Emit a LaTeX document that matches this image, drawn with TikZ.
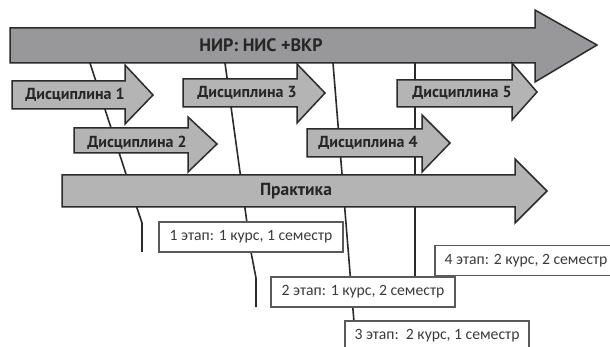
\documentclass[tikz,border=0pt]{standalone}
\usepackage{fontspec}
\setmainfont{Carlito}
\newfontfamily\lblfont{PT Sans}
\definecolor{nirgray}{HTML}{98989B}
\definecolor{armgray}{HTML}{B4B4B5}
\definecolor{edgecol}{HTML}{2B2B2B}
\definecolor{lblcol}{HTML}{262626}
\definecolor{boxtxt}{HTML}{3A3A3A}
\definecolor{boxedge}{HTML}{5A5A5A}
\tikzset{
  armshape/.style={draw=edgecol, line width=1.5pt, line join=miter, fill=armgray},
  lbl/.style={font=\lblfont\bfseries\fontsize{16}{18}\selectfont, text=lblcol, inner sep=0pt},
  stagebox/.style={draw=boxedge, line width=1.1pt, fill=white, minimum width=184pt, minimum height=30pt, inner sep=0pt, font=\fontsize{15.7}{18}\selectfont, text=boxtxt},
  link/.style={draw=edgecol, line width=1.6pt, line join=miter}
}
\begin{document}
\begin{tikzpicture}[x=1pt,y=-1pt]
\useasboundingbox (0,0) rectangle (610,347);
\clip (0,0) rectangle (610,347);
\fill[white] (0,0) rectangle (610,347);
% connector coordinates
\coordinate (a1) at (90,63);
\coordinate (a2) at (137,208);
\coordinate (a3) at (142,223);
\coordinate (a4) at (142,252);
\coordinate (c1) at (225,63);
\coordinate (c2) at (251,252);
\coordinate (c3) at (256,278);
\coordinate (c4) at (256,307);
\coordinate (d1) at (333,63);
\coordinate (d2) at (354,322);
\coordinate (e1) at (415,63);
\coordinate (e2) at (415,277);
% connectors (behind)
\draw[link] (a1) -- (a2) -- (a3) -- (a4);
\draw[link] (c1) -- (c2) -- (c3) -- (c4);
\draw[link] (d1) -- (d2);
\draw[link] (e1) -- (e2);
% arrows
\draw[armshape, fill=nirgray] (10,28) -- (535,28) -- (535,10) -- (597,45) -- (535,82) -- (535,63) -- (10,63) -- cycle;
\draw[armshape] (12,81) -- (125,81) -- (125,65) -- (153,95) -- (125,124) -- (125,109) -- (12,109) -- cycle;
\draw[armshape] (183,79) -- (297,79) -- (297,64) -- (325,93) -- (297,123) -- (297,107) -- (183,107) -- cycle;
\draw[armshape] (397,80) -- (512,80) -- (512,63) -- (537,92) -- (512,120) -- (512,107) -- (397,107) -- cycle;
\draw[armshape] (74,128) -- (188,128) -- (188,117) -- (217,144) -- (188,172) -- (188,153) -- (74,153) -- cycle;
\draw[armshape] (307,129) -- (422,129) -- (422,115) -- (450,143) -- (422,172) -- (422,157) -- (307,157) -- cycle;
\draw[armshape] (62,175) -- (515,175) -- (515,159) -- (547,191) -- (515,223) -- (515,207) -- (62,207) -- cycle;
% arrow labels
\node[lbl, font=\lblfont\bfseries\fontsize{18}{20}\selectfont] (nir) at (261,45) {НИР: НИС +ВКР};
\node[lbl] (d1l) at (75,95) {Дисциплина 1};
\node[lbl] (d2l) at (137,143) {Дисциплина 2};
\node[lbl] (d3l) at (247,93) {Дисциплина 3};
\node[lbl] (d4l) at (368,143) {Дисциплина 4};
\node[lbl] (d5l) at (462,93) {Дисциплина 5};
\node[lbl, font=\lblfont\bfseries\fontsize{17.5}{20}\selectfont] (pr) at (296,191) {Практика};
% stage boxes
\node[stagebox] (s1) at (251,237) {1 этап: 1 курс, 1 семестр};
\node[stagebox, minimum width=182pt] (s4) at (526,260.5) {4 этап: 2 курс, 2 семестр};
\node[stagebox] (s2) at (363,292) {2 этап: 1 курс, 2 семестр};
\node[stagebox] (s3) at (437,336) {3 этап:\ \ 2 курс, 1 семестр};
\end{tikzpicture}
\end{document}
